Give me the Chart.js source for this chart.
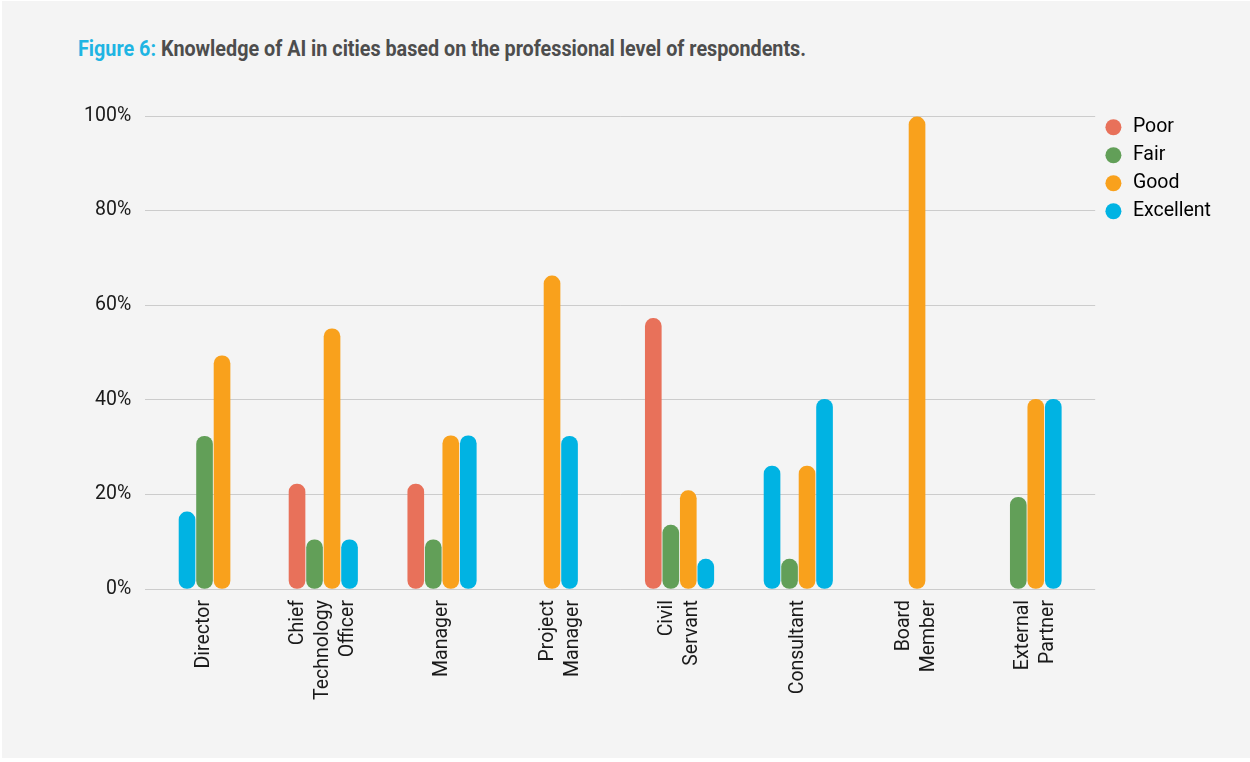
<!DOCTYPE html>
<html>
<head>
<meta charset="utf-8">
<script src="https://cdn.jsdelivr.net/npm/chart.js@4.4.1/dist/chart.umd.min.js"></script>
<style>
  html, body { margin: 0; padding: 0; background: #ffffff; }
  #page { position: absolute; left: 2px; top: 1px; width: 1248px; height: 757px; background: #f4f4f4; overflow: hidden; }
  #title { position: absolute; left: 76px; top: 37px; font-family: Roboto, sans-serif; font-weight: 700;
           font-size: 22px; line-height: 22px; color: #4d4d4d; white-space: nowrap; transform-origin: left top; }
  #title span { color: #1fb5e3; }
  canvas { position: absolute; left: -2px; top: -1px; }
</style>
</head>
<body>
<div id="page">
  <div id="title"><span>Figure 6:</span> Knowledge of AI in cities based on the professional level of respondents.</div>
  <canvas id="myBarChart" width="1250" height="762"></canvas>
</div>
<script>
/* data (percent of respondents) */
const categories = ['Director', ['Chief', 'Technology', 'Officer'], 'Manager', ['Project', 'Manager'],
                    ['Civil', 'Servant'], 'Consultant', ['Board', 'Member'], ['External', 'Partner']];
const seriesNames = ['Poor', 'Fair', 'Good', 'Excellent'];
const poor      = [16.3, 22.2, 22.2, null, 57.2, 26.0, null, null];
const fair      = [32.3, 10.4, 10.4, null, 13.5, 6.3, null, 19.4];
const good      = [49.3, 55.0, 32.4, 66.2, 20.8, 26.0, 99.8, 40.1];
const excellent = [null, 10.4, 32.4, 32.3, 6.3, 40.1, null, 40.1];
const yTicks    = [0, 20, 40, 60, 80, 100];

// in the original the first bar of these groups is drawn in the "Excellent" colour
const firstBarBlue = ['Director', 'Consultant'];

const colors = ['#e8715a', '#629f58', '#f9a11c', '#00b3e3'];
const FONT_SIZE = 19.5;

/* title: condensed look */
document.addEventListener("DOMContentLoaded", function () {
    const title = document.getElementById('title');
    const w = title.getBoundingClientRect().width;
    title.style.transform = 'scaleX(' + (728 / w) + ')';
});

/* rotated, centred multi-line category labels */
const xLabelPlugin = {
    id: 'xLabels',
    afterDraw(chart) {
        const c = chart.ctx;
        const x = chart.scales.x;
        const top = chart.chartArea.bottom + 11;
        const lineGap = 25;
        c.save();
        c.fillStyle = '#1a1a1a';
        c.font = FONT_SIZE + 'px Roboto';
        c.textAlign = 'right';
        c.textBaseline = 'middle';
        categories.forEach((cat, i) => {
            const lines = Array.isArray(cat) ? cat : [cat];
            const px = x.getPixelForValue(i);
            lines.forEach((line, j) => {
                c.save();
                c.translate(px + (j - (lines.length - 1) / 2) * lineGap, top);
                c.rotate(-Math.PI / 2);
                c.fillText(line, 0, 0);
                c.restore();
            });
        });
        c.restore();
    }
};

/* Bar chart */
document.addEventListener("DOMContentLoaded", function () {
    const ctx = document.getElementById('myBarChart').getContext('2d');
    const values = [poor, fair, good, excellent];

    const datasets = seriesNames.map((name, i) => ({
        label: name,
        data: values[i],
        backgroundColor: i === 0
            ? (c) => firstBarBlue.includes(categories[c.dataIndex]) ? colors[3] : colors[0]
            : colors[i],
        borderWidth: 0,
        borderRadius: 8,
        borderSkipped: false,
        barThickness: 17.5,
        maxBarThickness: 16
    }));

    new Chart(ctx, {
        type: 'bar',
        data: { labels: categories, datasets: datasets },
        plugins: [xLabelPlugin],
        options: {
            responsive: false,
            animation: false,
            skipNull: true,
            layout: { padding: { left: 70, right: 29, top: 109, bottom: 173 } },
            scales: {
                x: {
                    grid: { display: false, drawTicks: false },
                    border: { display: false },
                    ticks: { display: false }
                },
                y: {
                    min: 0,
                    max: 100,
                    afterFit: (s) => { s.paddingTop = 116; },
                    afterBuildTicks: (s) => { s.ticks = yTicks.map(v => ({ value: v })); },
                    grid: { color: '#cccccc', lineWidth: 1, drawTicks: false },
                    border: { display: false },
                    ticks: {
                        padding: 14,
                        color: '#1a1a1a',
                        font: { family: 'Roboto', size: FONT_SIZE },
                        callback: (v) => v + '%'
                    }
                }
            },
            plugins: {
                legend: {
                    position: 'right',
                    align: 'start',
                    labels: {
                        usePointStyle: true,
                        pointStyle: 'circle',
                        boxWidth: 28,
                        boxHeight: 11.3,
                        padding: 8.5,
                        color: '#1a1a1a',
                        font: { family: 'Roboto', size: FONT_SIZE },
                        generateLabels: () => seriesNames.map((name, i) => ({
                            text: name,
                            fillStyle: colors[i],
                            strokeStyle: colors[i],
                            lineWidth: 0,
                            pointStyle: 'circle',
                            datasetIndex: i,
                            hidden: false
                        }))
                    }
                },
                tooltip: { enabled: false }
            }
        }
    });
});
</script>
</body>
</html>
